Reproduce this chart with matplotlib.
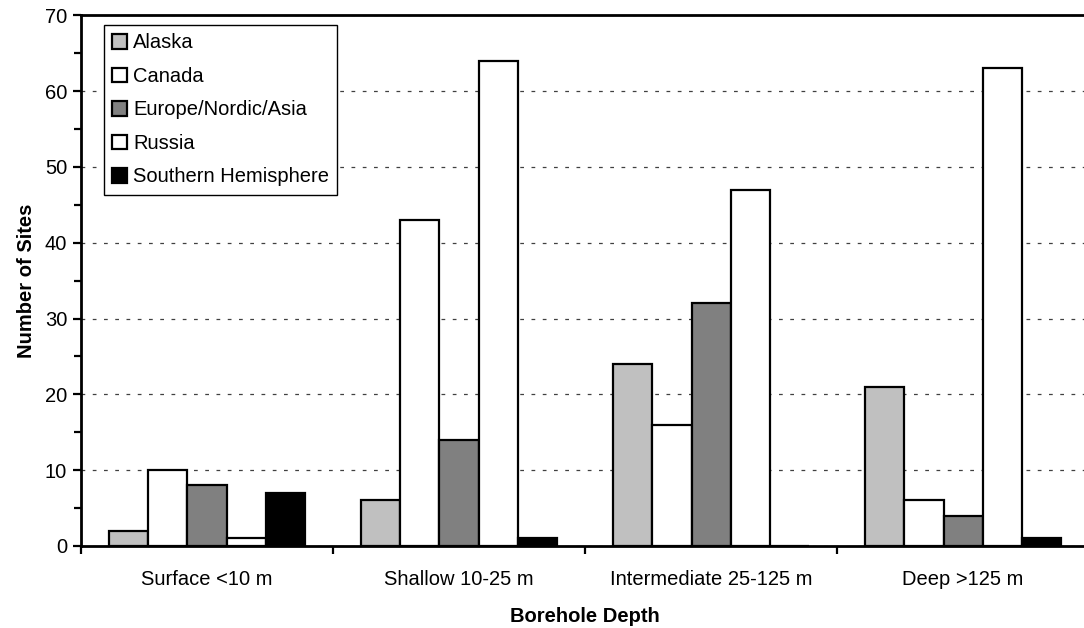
import matplotlib.pyplot as plt
import numpy as np

# datos
categorias = ['Surface <10 m', 'Shallow 10-25 m', 'Intermediate 25-125 m', 'Deep >125 m']
regiones = ['Alaska', 'Canada', 'Europe/Nordic/Asia', 'Russia', 'Southern Hemisphere']
alaska = [2, 6, 24, 21]
canada = [10, 43, 16, 6]
europa = [8, 14, 32, 4]
rusia = [1, 64, 47, 63]
sur = [7, 1, 0, 1]
colores = ['#C0C0C0', '#FFFFFF', '#808080', '#FFFFFF', '#000000']

series = [alaska, canada, europa, rusia, sur]
fuente = 'Liberation Sans'
tam = 14.5

fig = plt.figure(figsize=(10.84, 6.28), dpi=100)
ax = fig.add_axes([0.0747, 0.1306, 0.93, 0.845])

x = np.arange(len(categorias))
ancho = 0.155
for i, (vals, nombre, col) in enumerate(zip(series, regiones, colores)):
    pos = x + (i - 2) * ancho
    ax.bar(pos, vals, width=ancho, color=col, edgecolor='black', linewidth=1.6,
           label=nombre, zorder=3)

ax.set_xlim(-0.5, 3.5)
ax.set_ylim(0, 70)
ax.set_yticks(range(0, 71, 10))
ax.set_yticks(range(5, 70, 10), minor=True)
ax.yaxis.grid(True, which='major', linestyle=(0, (3, 6)), color='#404040', linewidth=0.9, zorder=0)

ax.set_xticks(np.arange(-0.5, 4, 1))
ax.set_xticklabels([])
ax.set_xticks(x, minor=True)
ax.set_xticklabels(categorias, minor=True, fontsize=tam, family=fuente)
ax.tick_params(axis='x', which='minor', length=0, pad=17)
ax.tick_params(axis='x', which='major', length=6, width=1.6, direction='out')
ax.tick_params(axis='y', which='major', length=6, width=1.6, labelsize=tam, pad=4)
ax.tick_params(axis='y', which='minor', length=5, width=1.6)
for lbl in ax.get_yticklabels():
    lbl.set_family(fuente)

for s in ['left', 'bottom', 'top']:
    ax.spines[s].set_linewidth(2)
ax.spines['right'].set_visible(False)

ax.set_xlabel('Borehole Depth', fontsize=tam, fontweight='bold', family=fuente, labelpad=13)
ax.set_ylabel('Number of Sites', fontsize=tam, fontweight='bold', family=fuente, labelpad=6)

leg = ax.legend(loc='upper left', bbox_to_anchor=(0.0228, 0.981), fancybox=False, edgecolor='black',
                framealpha=1, handlelength=0.75, handleheight=0.75, handletextpad=0.3,
                labelspacing=0.72, borderpad=0.4, borderaxespad=0.0,
                prop={'family': fuente, 'size': tam})
leg.get_frame().set_linewidth(1.0)
for h in leg.legend_handles:
    h.set_linewidth(1.6)

plt.savefig('out.png', dpi=100)
